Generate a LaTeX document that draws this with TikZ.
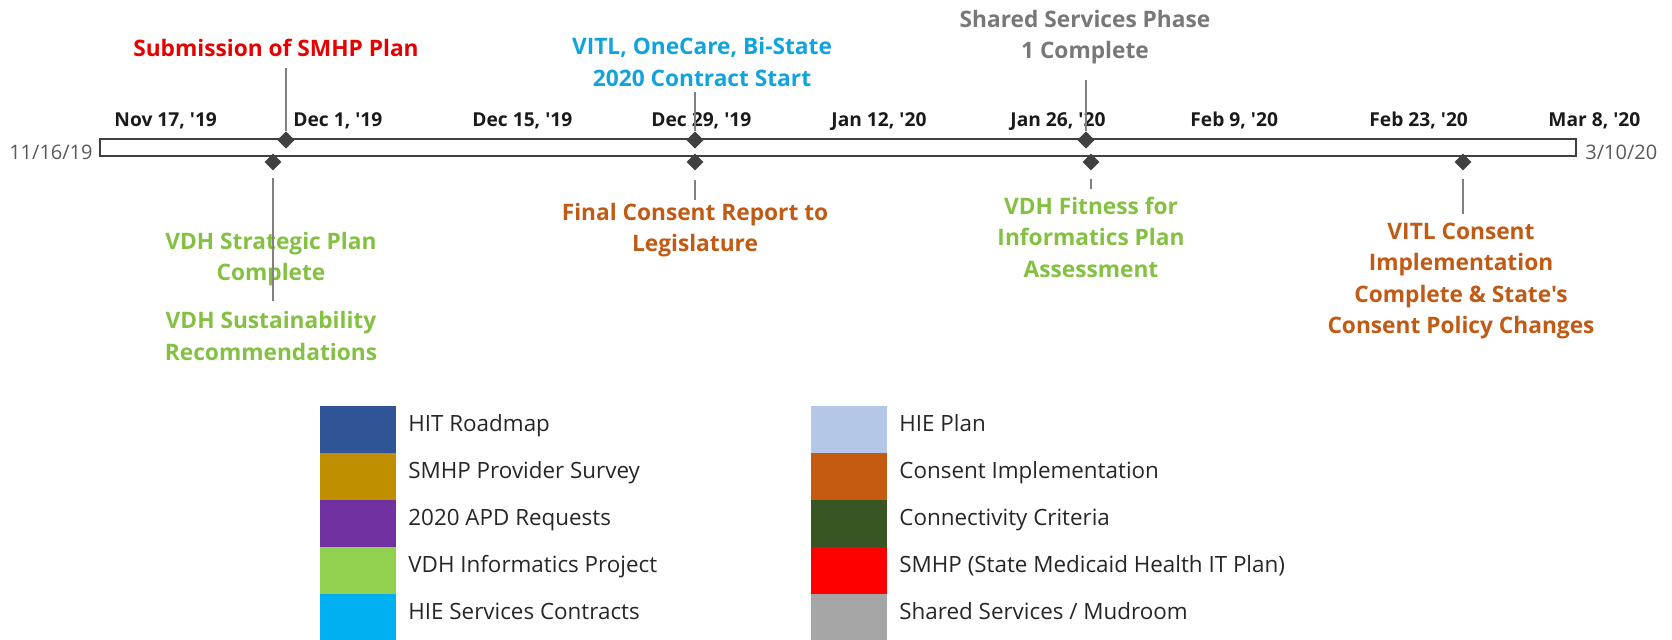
\documentclass[tikz,border=0pt]{standalone}
\usepackage{fontspec}
\newfontfamily\osans{Open Sans}
\usetikzlibrary{shapes.geometric}
\definecolor{barc}{HTML}{404040}
\definecolor{dgray}{HTML}{404040}
\definecolor{lgray}{HTML}{808080}
\definecolor{datec}{HTML}{1A1A1A}
\definecolor{endc}{HTML}{595959}
\definecolor{legc}{HTML}{262626}
\definecolor{tred}{HTML}{E60000}
\definecolor{tblue}{HTML}{10A3DE}
\definecolor{tgray}{HTML}{787878}
\definecolor{tgreen}{HTML}{84C041}
\definecolor{torange}{HTML}{C05A14}
\definecolor{cHIT}{HTML}{2F5597}
\definecolor{cSurvey}{HTML}{BF8F00}
\definecolor{cAPD}{HTML}{7030A0}
\definecolor{cVDH}{HTML}{92D050}
\definecolor{cHIES}{HTML}{00B0F0}
\definecolor{cHIEP}{HTML}{B4C7E7}
\definecolor{cCons}{HTML}{C55A11}
\definecolor{cConn}{HTML}{375623}
\definecolor{cSMHP}{HTML}{FF0000}
\definecolor{cShared}{HTML}{A5A5A5}
\begin{document}
\begin{tikzpicture}[x=0.5pt,y=-0.5pt,
  ms/.style={diamond, fill=dgray, inner sep=0pt, minimum size=8.6pt},
  lead/.style={draw=lgray, line width=0.7pt},
  lbl/.style={font=\osans\fontsize{11.35}{15.75}\selectfont\bfseries, align=center, inner sep=0pt},
  datelbl/.style={font=\osans\fontsize{9.6}{12}\selectfont\bfseries, anchor=base west, inner sep=0pt, text=datec},
  endlbl/.style={font=\osans\fontsize{10}{12}\selectfont, inner sep=0pt, text=endc},
  sw/.style={inner sep=0pt, minimum width=38pt, minimum height=23.4pt, anchor=north west},
  legtxt/.style={font=\osans\fontsize{11.2}{12}\selectfont, anchor=base west, inner sep=0pt, text=legc}]
\useasboundingbox (0,0) rectangle (1672,640);
% timeline bar
\node[draw=barc, fill=white, line width=0.75pt, inner sep=0pt, minimum width=738pt, minimum height=8.5pt] (bar) at (838,147.5) {};
\node[endlbl, anchor=base east] (start) at (93,160) {11/16/19};
\node[endlbl, anchor=base west] (end) at (1585,160) {3/10/20};
% date labels
\node[datelbl] (d1) at (114,127) {Nov 17, '19};
\node[datelbl] (d2) at (293,127) {Dec 1, '19};
\node[datelbl] (d3) at (472,127) {Dec 15, '19};
\node[datelbl] (d4) at (651,127) {Dec 29, '19};
\node[datelbl] (d5) at (831,127) {Jan 12, '20};
\node[datelbl] (d6) at (1010,127) {Jan 26, '20};
\node[datelbl] (d7) at (1190,127) {Feb 9, '20};
\node[datelbl] (d8) at (1369,127) {Feb 23, '20};
\node[datelbl] (d9) at (1548,127) {Mar 8, '20};
% milestone diamonds
\node[ms] (m1) at (286,140) {};
\node[ms] (m2) at (273,162) {};
\node[ms] (m3) at (695,140) {};
\node[ms] (m4) at (695,162) {};
\node[ms] (m5) at (1086,140) {};
\node[ms] (m6) at (1091,162) {};
\node[ms] (m7) at (1463,162) {};
% labels
\node[lbl, text=tred, anchor=base] (l1) at (276,57) {Submission of SMHP Plan};
\node[lbl, text=tblue] (l3) at (702,62) {VITL, OneCare, Bi-State\\2020 Contract Start};
\node[lbl, text=tgray] (l5) at (1085,37) {Shared Services Phase\\1 Complete};
\node[lbl, text=tgreen] (l2a) at (271,259) {VDH Strategic Plan\\Complete};
\node[lbl, text=tgreen] (l2b) at (271,336) {VDH Sustainability\\Recommendations};
\node[lbl, text=torange] (l4) at (695,230) {Final Consent Report to\\Legislature};
\node[lbl, text=tgreen] (l6) at (1091,237) {VDH Fitness for\\Informatics Plan\\Assessment};
\node[lbl, text=torange] (l7) at (1461,281) {VITL Consent\\Implementation\\Complete \& State's\\Consent Policy Changes};
% leader ends
\coordinate (e1) at (286,68);
\coordinate (s2) at (273,178);
\coordinate (e2) at (273,301);
\coordinate (e3) at (695,92);
\coordinate (s4) at (695,180);
\coordinate (e4) at (695,200);
\coordinate (e5) at (1086,80);
\coordinate (s6) at (1091,179);
\coordinate (e6) at (1091,189);
\coordinate (s7) at (1463,179);
\coordinate (e7) at (1463,214);
\draw[lead] (m1.north) -- (e1);
\draw[lead] (s2) -- (e2);
\draw[lead] (m3.north) -- (e3);
\draw[lead] (s4) -- (e4);
\draw[lead] (m5.north) -- (e5);
\draw[lead] (s6) -- (e6);
\draw[lead] (s7) -- (e7);
% redraw diamonds on top of leaders
\node[ms] at (m1) {};
\node[ms] at (m3) {};
\node[ms] at (m5) {};
% legend
\node[sw, fill=cHIT] (k1) at (320,406) {};
\node[sw, fill=cSurvey] (k2) at (320,452.8) {};
\node[sw, fill=cAPD] (k3) at (320,499.6) {};
\node[sw, fill=cVDH] (k4) at (320,546.4) {};
\node[sw, fill=cHIES] (k5) at (320,593.2) {};
\node[legtxt] (t1) at (408,432) {HIT Roadmap};
\node[legtxt] (t2) at (408,478.8) {SMHP Provider Survey};
\node[legtxt] (t3) at (408,525.6) {2020 APD Requests};
\node[legtxt] (t4) at (408,572.4) {VDH Informatics Project};
\node[legtxt] (t5) at (408,619.2) {HIE Services Contracts};
\node[sw, fill=cHIEP] (k6) at (811,406) {};
\node[sw, fill=cCons] (k7) at (811,452.8) {};
\node[sw, fill=cConn] (k8) at (811,499.6) {};
\node[sw, fill=cSMHP] (k9) at (811,546.4) {};
\node[sw, fill=cShared] (k10) at (811,593.2) {};
\node[legtxt] (t6) at (899,432) {HIE Plan};
\node[legtxt] (t7) at (899,478.8) {Consent Implementation};
\node[legtxt] (t8) at (899,525.6) {Connectivity Criteria};
\node[legtxt] (t9) at (899,572.4) {SMHP (State Medicaid Health IT Plan)};
\node[legtxt] (t10) at (899,619.2) {Shared Services / Mudroom};
\end{tikzpicture}
\end{document}
